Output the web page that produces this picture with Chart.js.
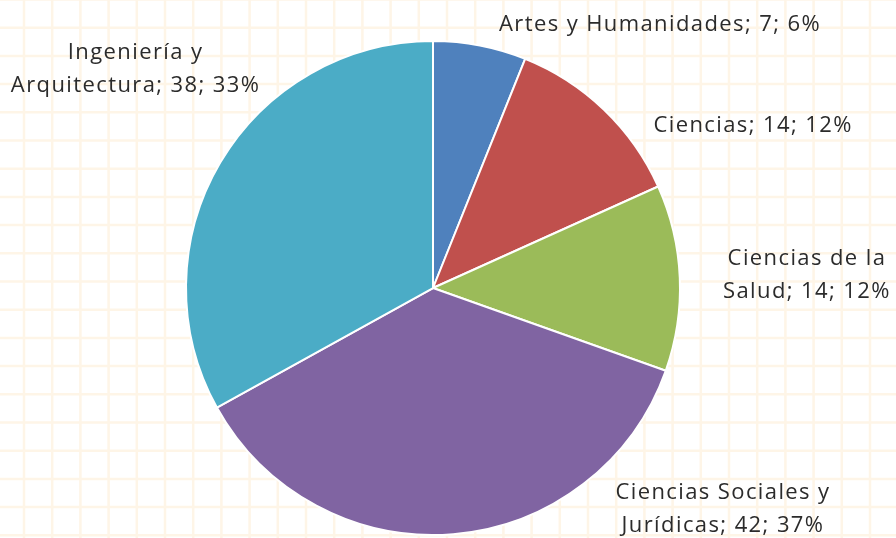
<!DOCTYPE html>
<html>
<head>
<meta charset="utf-8">
<script src="https://cdn.jsdelivr.net/npm/chart.js@4"></script>
<style>
  html, body { margin: 0; padding: 0; background: #ffffff; }
  #wrap { width: 896px; height: 538px; }
</style>
</head>
<body>
<div id="wrap"><canvas id="areasChart" width="896" height="538"></canvas></div>
<script>
// Estudiantes por rama de conocimiento
const ramas = ['Artes y Humanidades', 'Ciencias', 'Ciencias de la Salud', 'Ciencias Sociales y Jurídicas', 'Ingeniería y Arquitectura'];
const estudiantes = [7, 14, 14, 42, 38];
// texto de cada etiqueta, partido en líneas
const lineasEtiqueta = [
    ['Artes y Humanidades; 7; 6%'],
    ['Ciencias; 14; 12%'],
    ['Ciencias de la', 'Salud; 14; 12%'],
    ['Ciencias Sociales y', 'Jurídicas; 42; 37%'],
    ['Ingeniería y', 'Arquitectura; 38; 33%']
];
const colores = ['#4F81BD', '#C0504D', '#9BBB59', '#8064A2', '#4BACC6'];

// posición del centro de cada etiqueta, en radios desde el centro de la tarta
const posEtiqueta = [
    [0.919, -1.065],
    [1.296, -0.656],
    [1.514, -0.053],
    [1.174, 0.895],
    [-1.204, -0.887]
];

// fondo cuadriculado
const cuadricula = {
    id: 'cuadricula',
    beforeDraw(chart) {
        const ctx = chart.ctx;
        const w = chart.width, h = chart.height;
        ctx.save();
        ctx.fillStyle = '#ffffff';
        ctx.fillRect(0, 0, w, h);
        ctx.strokeStyle = 'rgb(254, 245, 231)';
        ctx.lineWidth = 2.5;
        const paso = 28.2;
        ctx.beginPath();
        for (let x = 24 - paso; x < w + 2; x += paso) {
            ctx.moveTo(x, 0);
            ctx.lineTo(x, h);
        }
        for (let y = -0.5; y < h + 2; y += paso) {
            ctx.moveTo(0, y);
            ctx.lineTo(w, y);
        }
        ctx.stroke();
        ctx.restore();
    }
};

// etiquetas de datos fuera de la tarta
const etiquetas = {
    id: 'etiquetas',
    afterDatasetsDraw(chart) {
        const ctx = chart.ctx;
        const arcs = chart.getDatasetMeta(0).data;
        ctx.save();
        ctx.font = '22px "Open Sans", sans-serif';
        ctx.letterSpacing = '1.4px';
        ctx.fillStyle = '#2b2b2b';
        ctx.textAlign = 'center';
        ctx.textBaseline = 'middle';
        const alto = 33;
        arcs.forEach((arc, i) => {
            const r = arc.outerRadius;
            const cx = arc.x + posEtiqueta[i][0] * r;
            const cy = arc.y + posEtiqueta[i][1] * r;
            const lineas = lineasEtiqueta[i];
            const y0 = cy - (lineas.length - 1) * alto / 2;
            lineas.forEach((t, k) => ctx.fillText(t, cx, y0 + k * alto));
        });
        ctx.restore();
    }
};

const config = {
    type: 'pie',
    data: {
        labels: ramas,
        datasets: [{
            data: estudiantes,
            backgroundColor: colores,
            borderColor: '#ffffff',
            borderWidth: 2,
            hoverOffset: 0
        }]
    },
    options: {
        responsive: false,
        animation: false,
        radius: 247,
        layout: { padding: { left: 0, right: 30, top: 41, bottom: 3 } },
        plugins: {
            legend: { display: false },
            tooltip: { enabled: false }
        }
    },
    plugins: [cuadricula, etiquetas]
};

const ctx = document.getElementById('areasChart').getContext('2d');
const areasChart = new Chart(ctx, config);
</script>
</body>
</html>
